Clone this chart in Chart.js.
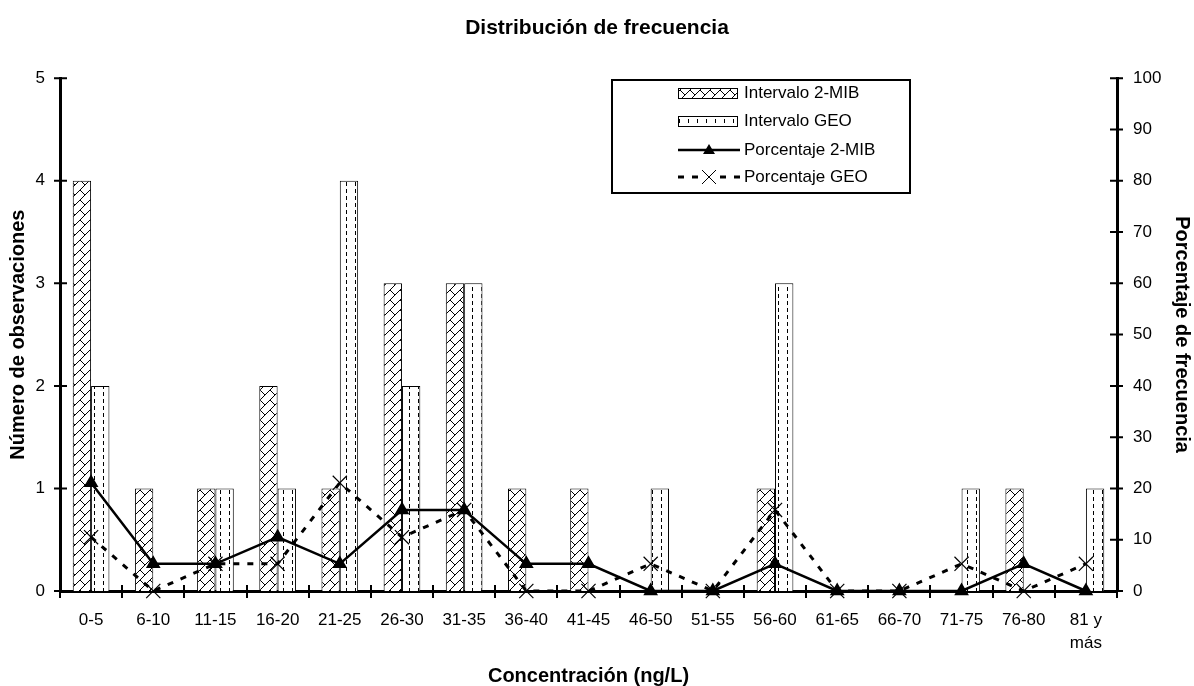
<!DOCTYPE html>
<html lang="es">
<head>
<meta charset="utf-8">
<title>Distribución de frecuencia</title>
<script src="https://cdn.jsdelivr.net/npm/chart.js@4"></script>
<style>
    body { margin: 0; background: #fff; }
    #marco { width: 1194px; height: 686px; }
</style>
</head>
<body>
<div id="marco"><canvas id="grafico"></canvas></div>
<script>
// Datos
const intervalos = ['0-5', '6-10', '11-15', '16-20', '21-25', '26-30', '31-35', '36-40', '41-45',
    '46-50', '51-55', '56-60', '61-65', '66-70', '71-75', '76-80', ['81 y', 'más']];
const obs2MIB = [4, 1, 1, 2, 1, 3, 3, 1, 1, 0, 0, 1, 0, 0, 0, 1, 0];
const obsGEO = [2, 0, 1, 1, 4, 2, 3, 0, 0, 1, 0, 3, 0, 0, 1, 0, 1];
const porc2MIB = [21.1, 5.3, 5.3, 10.5, 5.3, 15.8, 15.8, 5.3, 5.3, 0, 0, 5.3, 0, 0, 0, 5.3, 0];
const porcGEO = [10.5, 0, 5.3, 5.3, 21.1, 10.5, 15.8, 0, 0, 5.3, 0, 15.8, 0, 0, 5.3, 0, 5.3];

const FUENTE = "'Liberation Sans', Arial, sans-serif";
Chart.defaults.font.family = FUENTE;
Chart.defaults.color = '#000';

// Tramas de relleno de las barras
function crearTrama(ancho, alto, dibujar) {
    const c = document.createElement('canvas');
    c.width = ancho;
    c.height = alto;
    const g = c.getContext('2d');
    g.fillStyle = '#fff';
    g.fillRect(0, 0, ancho, alto);
    g.strokeStyle = '#000';
    g.lineWidth = 1;
    dibujar(g);
    return g.createPattern(c, 'repeat');
}

const trama2MIB = crearTrama(10, 10, g => {
    g.beginPath();
    g.moveTo(0, 10); g.lineTo(10, 0);
    g.moveTo(0, 0); g.lineTo(5, 5);
    g.stroke();
});

const tramaGEO = crearTrama(9, 7, g => {
    g.beginPath();
    g.moveTo(4.5, 0); g.lineTo(4.5, 4);
    g.stroke();
});

// Marcas de los ejes que cruzan la línea del eje
const marcasEjes = {
    id: 'marcasEjes',
    afterDraw(chart) {
        const { ctx, scales: { x, y, y1 } } = chart;
        ctx.save();
        ctx.strokeStyle = '#000';
        ctx.lineWidth = 2;
        ctx.beginPath();
        y.ticks.forEach((t, i) => {
            const py = y.getPixelForTick(i);
            ctx.moveTo(y.right - 6, py);
            ctx.lineTo(y.right + 7, py);
        });
        y1.ticks.forEach((t, i) => {
            const py = y1.getPixelForTick(i);
            ctx.moveTo(y1.left - 7, py);
            ctx.lineTo(y1.left + 6, py);
        });
        const paso = (x.right - x.left) / x.ticks.length;
        for (let i = 0; i <= x.ticks.length; i++) {
            const px = Math.round(x.left + i * paso);
            ctx.moveTo(px, x.top - 6);
            ctx.lineTo(px, x.top + 7);
        }
        ctx.stroke();
        ctx.restore();
    }
};

// Leyenda dibujada a mano, como en el original
const leyenda = {
    id: 'leyenda',
    afterDraw(chart) {
        const ctx = chart.ctx;
        const caja = { x: 612, y: 80, w: 298, h: 113 };
        const xm = 678, xf = 740, xt = 744;
        const filas = [93, 121, 150, 177];

        ctx.save();
        ctx.fillStyle = '#fff';
        ctx.fillRect(caja.x, caja.y, caja.w, caja.h);
        ctx.strokeStyle = '#000';
        ctx.lineWidth = 2;
        ctx.strokeRect(caja.x, caja.y, caja.w, caja.h);

        // muestras de barras
        ctx.lineWidth = 1;
        [trama2MIB, tramaGEO].forEach((t, i) => {
            ctx.fillStyle = t;
            ctx.fillRect(xm, filas[i] - 5, xf - xm - 3, 10);
            ctx.strokeRect(xm + 0.5, filas[i] - 4.5, xf - xm - 3, 10);
        });

        // muestra línea continua con triángulo
        const xc = (xm + xf) / 2;
        ctx.lineWidth = 2.5;
        ctx.beginPath();
        ctx.moveTo(xm, filas[2]);
        ctx.lineTo(xf, filas[2]);
        ctx.stroke();
        ctx.fillStyle = '#000';
        ctx.beginPath();
        ctx.moveTo(xc, filas[2] - 6);
        ctx.lineTo(xc + 6, filas[2] + 4);
        ctx.lineTo(xc - 6, filas[2] + 4);
        ctx.closePath();
        ctx.fill();

        // muestra línea discontinua con aspa
        ctx.lineWidth = 3;
        ctx.setLineDash([6, 8]);
        ctx.beginPath();
        ctx.moveTo(xm, filas[3]);
        ctx.lineTo(xf, filas[3]);
        ctx.stroke();
        ctx.setLineDash([]);
        ctx.fillStyle = '#fff';
        ctx.fillRect(xc - 7, filas[3] - 7, 14, 14);
        ctx.lineWidth = 1;
        ctx.beginPath();
        ctx.moveTo(xc - 7, filas[3] - 7); ctx.lineTo(xc + 7, filas[3] + 7);
        ctx.moveTo(xc + 7, filas[3] - 7); ctx.lineTo(xc - 7, filas[3] + 7);
        ctx.stroke();

        ctx.fillStyle = '#000';
        ctx.font = '17px ' + FUENTE;
        ctx.textBaseline = 'middle';
        ['Intervalo 2-MIB', 'Intervalo GEO', 'Porcentaje 2-MIB', 'Porcentaje GEO']
            .forEach((txt, i) => ctx.fillText(txt, xt, filas[i]));
        ctx.restore();
    }
};

const ctx = document.getElementById('grafico').getContext('2d');
const grafico = new Chart(ctx, {
    type: 'bar',
    data: {
        labels: intervalos,
        datasets: [
            {
                label: 'Intervalo 2-MIB',
                data: obs2MIB,
                backgroundColor: trama2MIB,
                borderColor: '#000',
                borderWidth: 1,
                yAxisID: 'y',
                order: 2
            },
            {
                label: 'Intervalo GEO',
                data: obsGEO,
                backgroundColor: tramaGEO,
                borderColor: '#000',
                borderWidth: 1,
                yAxisID: 'y',
                order: 2
            },
            {
                type: 'line',
                label: 'Porcentaje 2-MIB',
                data: porc2MIB,
                borderColor: '#000',
                borderWidth: 2.5,
                pointStyle: 'triangle',
                pointRadius: 6,
                pointBackgroundColor: '#000',
                pointBorderColor: '#000',
                tension: 0,
                clip: false,
                yAxisID: 'y1',
                order: 1
            },
            {
                type: 'line',
                label: 'Porcentaje GEO',
                data: porcGEO,
                borderColor: '#000',
                borderWidth: 3,
                borderDash: [6, 8],
                pointStyle: 'crossRot',
                pointRadius: 10,
                pointBorderWidth: 1.2,
                pointBorderColor: '#000',
                tension: 0,
                clip: false,
                yAxisID: 'y1',
                order: 0
            }
        ]
    },
    options: {
        responsive: true,
        maintainAspectRatio: false,
        animation: false,
        datasets: {
            bar: {
                categoryPercentage: 0.59,
                barPercentage: 1
            }
        },
        plugins: {
            legend: { display: false },
            tooltip: { enabled: false },
            title: {
                display: true,
                text: 'Distribución de frecuencia',
                font: { size: 21, weight: 'bold' },
                padding: { top: 16, bottom: 37 }
            }
        },
        scales: {
            x: {
                offset: true,
                grid: { display: false },
                border: { color: '#000', width: 3 },
                ticks: {
                    autoSkip: false,
                    maxRotation: 0,
                    padding: 10,
                    font: { size: 17, lineHeight: 1.33 }
                },
                title: {
                    display: true,
                    text: 'Concentración (ng/L)',
                    font: { size: 20, weight: 'bold', lineHeight: 1 },
                    padding: { top: 0, bottom: 0 }
                },
                afterFit: s => { s.height = 95; }
            },
            y: {
                position: 'left',
                min: 0,
                max: 5,
                grid: { display: false },
                border: { color: '#000', width: 3 },
                ticks: { stepSize: 1, padding: 7, font: { size: 17 } },
                title: {
                    display: true,
                    text: 'Número de observaciones',
                    font: { size: 20, weight: 'bold' },
                    padding: { top: 6, bottom: 0 }
                },
                afterFit: s => { s.width = 60; }
            },
            y1: {
                position: 'right',
                min: 0,
                max: 100,
                grid: { display: false },
                border: { color: '#000', width: 3 },
                ticks: { stepSize: 10, padding: 8, font: { size: 17 } },
                title: {
                    display: true,
                    text: 'Porcentaje de frecuencia',
                    font: { size: 20, weight: 'bold' },
                    padding: { top: 0, bottom: 0 }
                },
                afterFit: s => { s.width = 77; }
            }
        }
    },
    plugins: [marcasEjes, leyenda]
});
</script>
</body>
</html>
